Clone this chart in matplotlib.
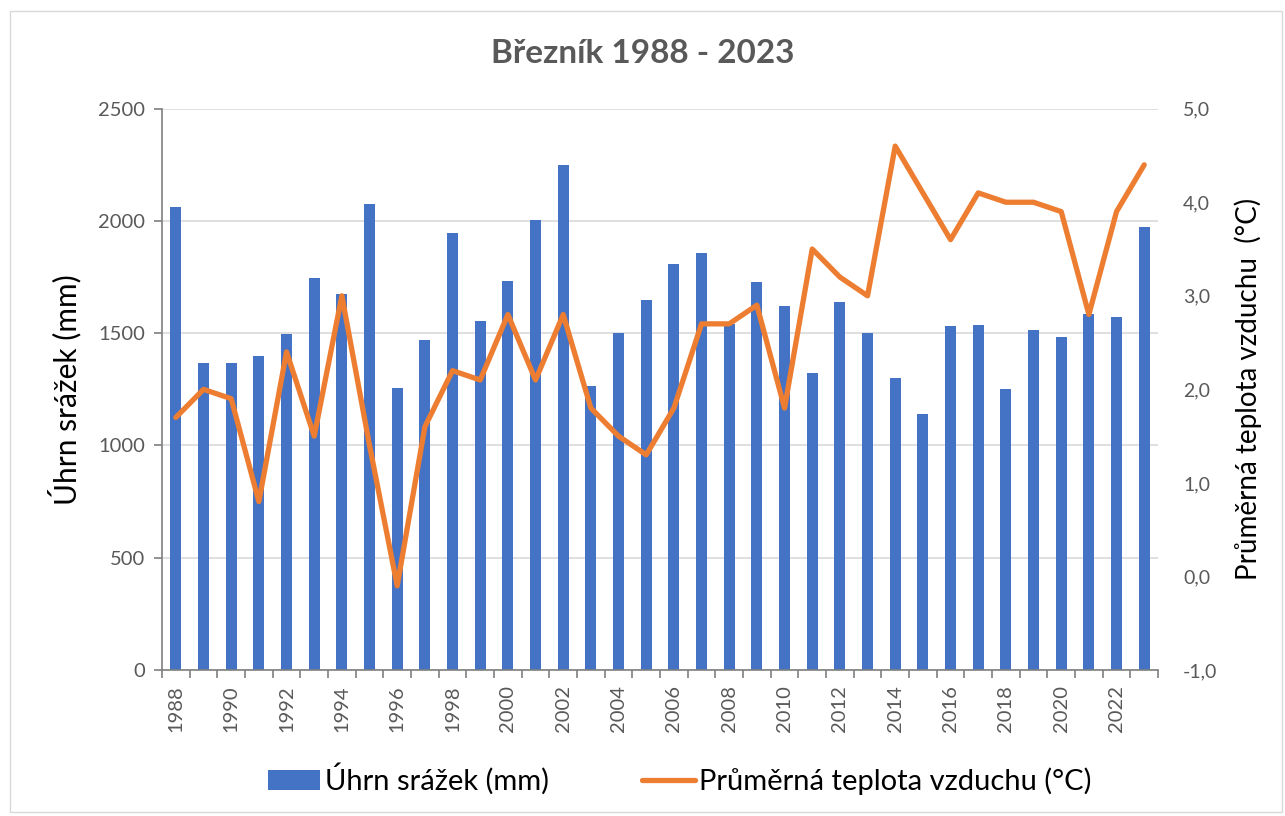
import numpy as np
import matplotlib.pyplot as plt
from matplotlib.patches import Rectangle
from matplotlib.ticker import MultipleLocator, FixedLocator

plt.rcParams['font.family'] = ['Lato', 'DejaVu Sans']

# data
years = list(range(1988, 2024))
srazky = [2060, 1368, 1366, 1399, 1496, 1747, 1676, 2077, 1258, 1468,
          1946, 1555, 1732, 2005, 2247, 1266, 1502, 1647, 1808, 1858,
          1540, 1728, 1620, 1324, 1637, 1501, 1300, 1142, 1533, 1535,
          1251, 1513, 1485, 1586, 1572, 1973]
teplota = [1.7, 2.0, 1.9, 0.8, 2.4, 1.5, 3.0, 1.4, -0.1, 1.6,
           2.2, 2.1, 2.8, 2.1, 2.8, 1.8, 1.5, 1.3, 1.8, 2.7,
           2.7, 2.9, 1.8, 3.5, 3.2, 3.0, 4.6, 4.1, 3.6, 4.1,
           4.0, 4.0, 3.9, 2.8, 3.9, 4.4]

grey = '#595959'
x = np.arange(len(years))

fig = plt.figure(figsize=(12.85, 8.16), dpi=100)
ax = fig.add_axes([0.1261, 0.1789, 0.7751, 0.6879])
ax2 = ax.twinx()

ax.bar(x, srazky, width=0.4, color='#4472C4', label='Úhrn srážek (mm)', zorder=2)
ax2.plot(x, teplota, color='#ED7D31', lw=3.8, solid_joinstyle='round',
         solid_capstyle='round', label='Průměrná teplota vzduchu (°C)', zorder=3)

ax.set_xlim(-0.5, len(years) - 0.5)
ax.set_ylim(0, 2500)
ax2.set_ylim(-1, 5)
ax.yaxis.set_major_locator(MultipleLocator(500))
ax2.yaxis.set_major_locator(MultipleLocator(1))
ax2.set_yticklabels([f'{v:.1f}'.replace('.', ',') for v in ax2.get_yticks()])

ax.grid(axis='y', color='#d9d9d9', lw=1.2, zorder=0)
ax.set_axisbelow(True)

# x ticks: labels every 2 years, tick marks on category boundaries
ax.set_xticks(x[::2])
ax.set_xticklabels([str(y) for y in years[::2]], rotation=90, fontsize=14.5, color=grey)
ax.tick_params(axis='x', which='major', length=0, pad=11)
ax.xaxis.set_minor_locator(FixedLocator(np.arange(-0.5, len(years), 1)))
ax.tick_params(axis='x', which='minor', length=6, color='#7f7f7f', width=1.2)

ax.tick_params(axis='y', labelsize=14.5, labelcolor=grey, length=6, color='#7f7f7f', width=1.2, pad=6)
ax2.tick_params(axis='y', labelsize=14, labelcolor=grey, length=0, pad=18)

for s in ['top', 'right']:
    ax.spines[s].set_visible(False)
for s in ['top', 'right', 'left', 'bottom']:
    ax2.spines[s].set_visible(False)
ax.spines['left'].set_color('#7f7f7f')
ax.spines['bottom'].set_color('#7f7f7f')
ax.spines['left'].set_linewidth(1.2)
ax.spines['bottom'].set_linewidth(1.2)

ax.set_ylabel('Úhrn srážek (mm)', fontsize=21.5, labelpad=12)
ax2.set_ylabel('Průměrná teplota vzduchu  (°C)', fontsize=20, labelpad=12)
fig.text(0.5, 0.935, 'Březník 1988 - 2023', ha='center', va='center',
         fontsize=24, fontweight='bold', color=grey)

h1, l1 = ax.get_legend_handles_labels()
h2, l2 = ax2.get_legend_handles_labels()
fig.legend(h1 + h2, l1 + l2, loc='center', bbox_to_anchor=(0.529, 0.045), ncol=2,
           frameon=False, fontsize=21, handlelength=1.8, columnspacing=3.2,
           handletextpad=0.15)

fig.patches.append(Rectangle((0.0078, 0.005), 0.99, 0.9815, transform=fig.transFigure,
                             fill=False, edgecolor='#d9d9d9', lw=1))

fig.savefig('out.png', dpi=100)
